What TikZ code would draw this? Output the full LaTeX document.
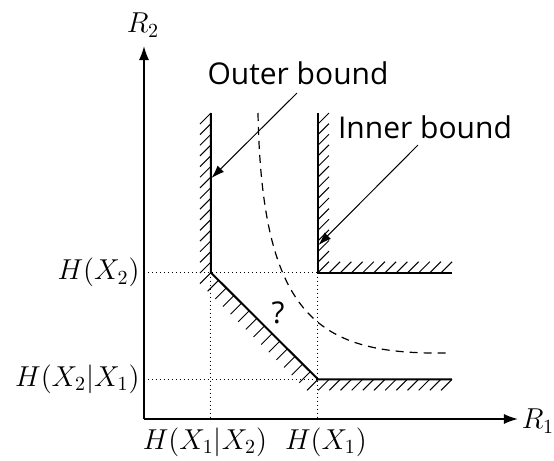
\documentclass[tikz,border=0pt]{standalone}
\usepackage{fontspec}
\newfontfamily\notefont{Open Sans}
\usetikzlibrary{arrows.meta}
\begin{document}
\begin{tikzpicture}[x=0.5pt, y=-0.5pt, line width=0.5pt,
  axis/.style={line width=0.8pt, -{Latex[length=7pt,width=5pt]}},
  bound/.style={line width=1pt},
  hatch/.style={line width=0.5pt},
  guide/.style={line width=0.5pt, dash pattern=on 0.5pt off 1.5pt},
  note/.style={line width=0.5pt, -{Latex[length=6.5pt,width=4.5pt]}},
  lab/.style={font=\fontsize{14}{16}\selectfont, inner sep=0pt},
  txt/.style={font=\notefont\fontsize{15}{18}\selectfont, inner sep=0pt}]
  \useasboundingbox (0,0) rectangle (554,461);
  \coordinate (O) at (144,419); \coordinate (Xe) at (518,419); \coordinate (Ye) at (144,46);
  \coordinate (A) at (211,272.7); \coordinate (B) at (318,379.3); \coordinate (C) at (318,272.7);
  \coordinate (At) at (211,113); \coordinate (Ct) at (318,113); \coordinate (Be) at (452,379.3); \coordinate (Ce) at (452,272.7);
  % guides
  \draw[guide] (144,272.7) -- (C);
  \draw[guide] (144,379.3) -- (B);
  \draw[guide] (A) -- (211,419);
  \draw[guide] (C) -- (318,419);
  % axes
  \draw[axis] (O) -- (Xe);
  \draw[axis] (O) -- (Ye);
  \node[lab] (r1) at (538,421) {$R_1$};
  \node[lab] (r2) at (143,25) {$R_2$};
  \node[lab, anchor=east] (hx2) at (140,272.7) {$H(X_2)$};
  \node[lab, anchor=east] (hx2x1) at (140,379.3) {$H(X_2|X_1)$};
  \node[lab] (hx1x2) at (205,442) {$H(X_1|X_2)$};
  \node[lab] (hx1) at (326,442) {$H(X_1)$};
  % outer bound
  \draw[bound] (At) -- (A) -- (B) -- (Be);
  \foreach \i in {0,...,15} \draw[hatch] (211,{113+\i*10.645}) -- ++(-11,11);
  \foreach \i in {1,...,14} \draw[hatch] ({211+\i*7.643},{272.7+\i*7.614}) -- ++(-11,11);
  \foreach \i in {1,...,12} \draw[hatch] ({318+\i*11.17},379.3) -- ++(-11,11);
  % inner bound
  \draw[bound] (Ct) -- (C) -- (Ce);
  \foreach \i in {0,...,14} \draw[hatch] (318,{272.7-\i*10.62}) -- ++(11,-11);
  \foreach \i in {1,...,11} \draw[hatch] ({318+\i*11.2},272.7) -- ++(11,-11);
  % true region?
  \draw[line width=0.6pt, dash pattern=on 4pt off 3pt] (258,113) .. controls (262,320) and (320,355) .. (448,353);
  \node[txt] (q) at (278,312.5) {?};
  % labels
  \node[txt] (outer) at (298,73.6) {Outer bound};
  \node[txt] (inner) at (425,127) {Inner bound};
  \coordinate (os) at (297,93); \coordinate (ot) at (211.5,178);
  \coordinate (is) at (418,145); \coordinate (it) at (318.5,245);
  \draw[note] (os) -- (ot);
  \draw[note] (is) -- (it);
\end{tikzpicture}
\end{document}
